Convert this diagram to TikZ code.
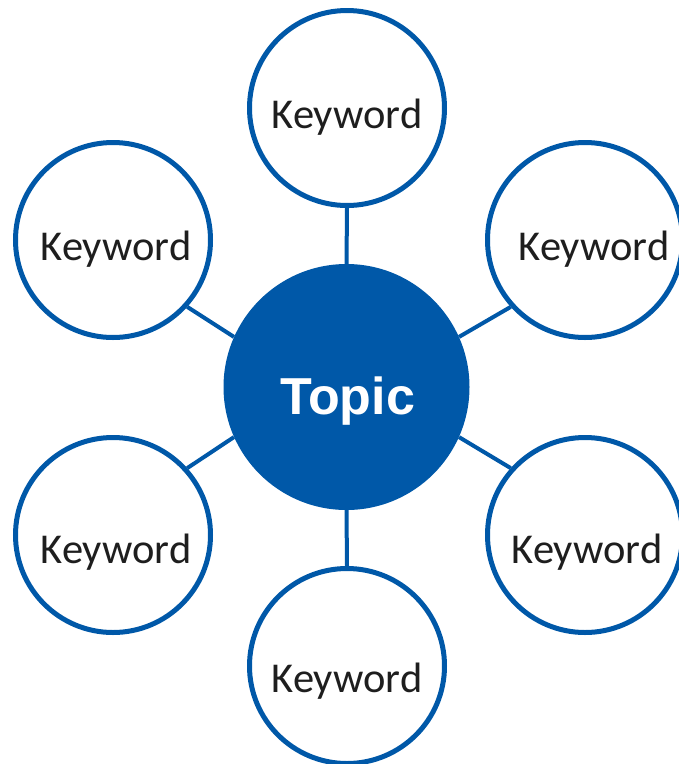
\documentclass[tikz,border=0pt]{standalone}
\usepackage{fontspec}
\newfontfamily\kwfont{Carlito}
\newfontfamily\topicfont{Liberation Sans}
\definecolor{mapblue}{RGB}{0,88,168}
\definecolor{kwtext}{RGB}{30,30,30}
\begin{document}
\begin{tikzpicture}[x=1pt,y=-1pt,
  ring/.style={circle, draw=mapblue, line width=5pt, fill=white, minimum size=195pt, inner sep=0pt},
  hub/.style={circle, fill=mapblue, minimum size=246pt, inner sep=0pt},
  kwlabel/.style={anchor=base, font=\kwfont\fontsize{42.5}{42.5}\selectfont, text=kwtext, inner sep=0pt},
  link/.style={draw=mapblue, line width=4pt}]
\useasboundingbox (0,0) rectangle (679,764);
\node[hub] (c) at (346.5,387) {};
\node[ring] (t) at (347,108) {};
\node[ring] (tl) at (113,240) {};
\node[ring] (tr) at (585,240) {};
\node[ring] (bl) at (113,535) {};
\node[ring] (br) at (585,535) {};
\node[ring] (b) at (347,666) {};
\draw[link] (c.90) -- (t.-90);
\draw[link] (c.-90) -- (b.90);
\draw[link] (c.156) -- (tl.-42);
\draw[link] (c.24) -- (tr.222);
\draw[link] (c.-156) -- (bl.42);
\draw[link] (c.-24) -- (br.138);
\node[kwlabel] (tt) at (347,128) {Keyword};
\node[kwlabel] (tlt) at (116,260) {Keyword};
\node[kwlabel] (trt) at (594,260) {Keyword};
\node[kwlabel] (blt) at (116,563) {Keyword};
\node[kwlabel] (brt) at (587,563) {Keyword};
\node[kwlabel] (bt) at (347,692) {Keyword};
\node[anchor=base, inner sep=0pt, text=white, font=\topicfont\bfseries\fontsize{52}{52}\selectfont] (ct) at (347.5,414) {Topic};
\end{tikzpicture}
\end{document}
